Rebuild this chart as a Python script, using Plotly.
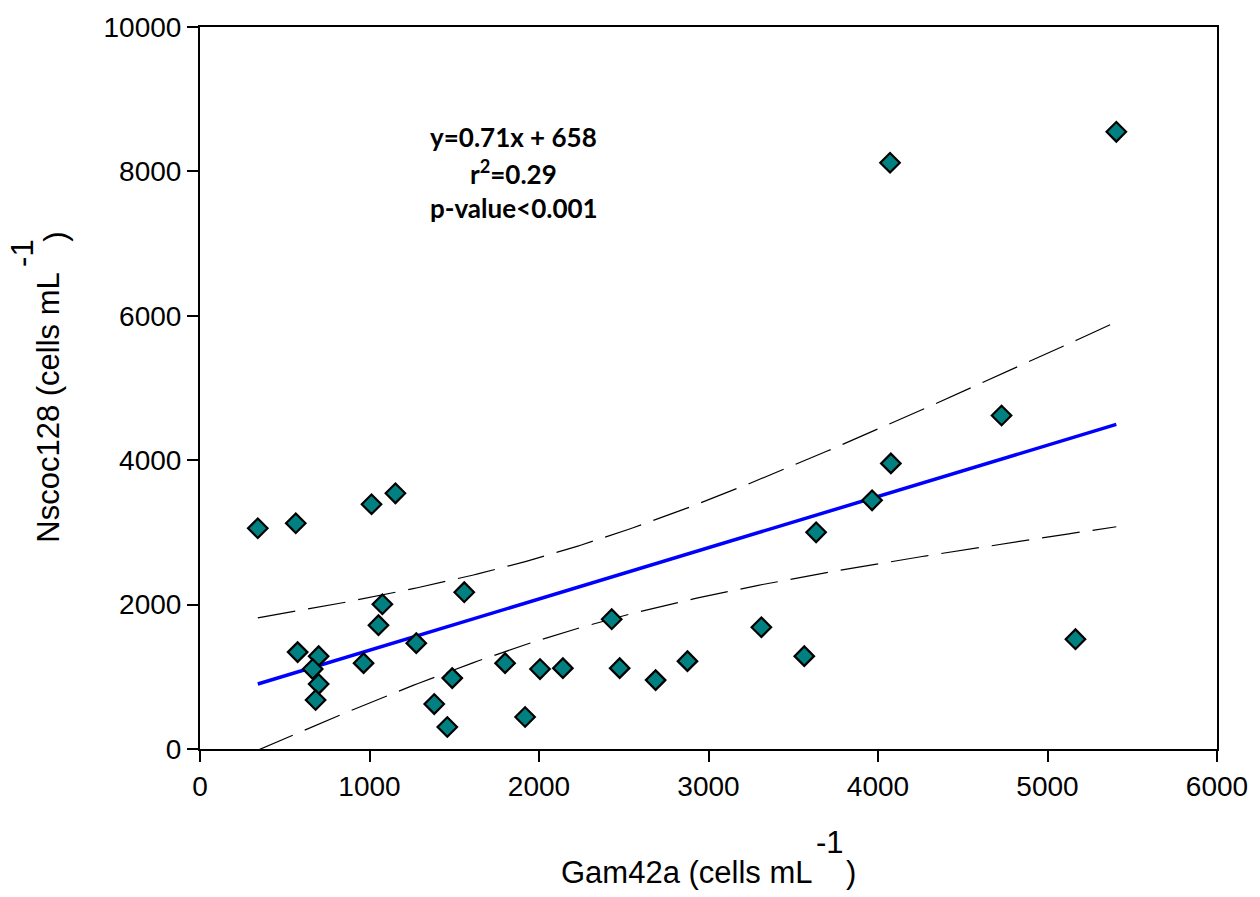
import numpy as np
import plotly.graph_objects as go

# Paired counts (cells mL-1)
gam42a = [341, 565, 1012, 1153, 576, 700, 665, 700, 682, 965, 1076, 1053,
          1276, 1382, 1459, 1488, 1559, 1800, 1918, 2006, 2141, 2429, 2476,
          2688, 2876, 3312, 3565, 3635, 3965, 4076, 4071, 4729, 5165, 5406]
nscoc128 = [3057, 3126, 3389, 3541, 1342, 1286, 1107, 899, 678, 1189, 2005,
            1715, 1466, 622, 304, 982, 2172, 1189, 443, 1107, 1120, 1798, 1120,
            954, 1217, 1687, 1286, 3001, 3444, 3956, 8119, 4620, 1521, 8548]

# Linear fit reported on the chart
slope = 0.71
intercept = 658
x_ticks = [0, 1000, 2000, 3000, 4000, 5000, 6000]
y_ticks = [0, 2000, 4000, 6000, 8000, 10000]
x_labels = [str(v) for v in x_ticks]
y_labels = [str(v) for v in y_ticks]

x = np.array(gam42a, dtype=float)
y = np.array(nscoc128, dtype=float)
n = len(x)
xs = np.linspace(x.min(), x.max(), 200)
fit = slope * xs + intercept

# 95% confidence band of the regression line
resid = y - (slope * x + intercept)
s = np.sqrt(np.sum(resid ** 2) / (n - 2))
xbar = x.mean()
sxx = np.sum((x - xbar) ** 2)
t_crit = 2.037
half = t_crit * s * np.sqrt(1.0 / n + (xs - xbar) ** 2 / sxx)

fig = go.Figure()
dash_style = dict(color="black", width=1.2, dash="38px,13px")
fig.add_trace(go.Scatter(x=xs, y=fit + half, mode="lines", line=dash_style,
                         hoverinfo="skip"))
fig.add_trace(go.Scatter(x=xs, y=fit - half, mode="lines", line=dash_style,
                         hoverinfo="skip"))
fig.add_trace(go.Scatter(x=xs, y=fit, mode="lines",
                         line=dict(color="#0000ff", width=3.5)))
fig.add_trace(go.Scatter(x=gam42a, y=nscoc128, mode="markers",
                         marker=dict(symbol="diamond", size=15, color="#008080",
                                     line=dict(color="black", width=2.2))))

L, R, T, B = 200, 36, 26, 148
W, H = 1260, 897
pw, ph = W - L - R, H - T - B


def px(xp):
    return (xp - L) / pw


def py(yp):
    return (H - B - yp) / ph


tick_font = dict(family="Liberation Sans, Arial, sans-serif", size=28, color="black")
axis_common = dict(showline=True, linecolor="black", linewidth=2, mirror=True,
                   ticks="outside", ticklen=11, tickwidth=2, tickcolor="black",
                   showgrid=False, zeroline=False, tickfont=tick_font)

fig.update_layout(
    width=W, height=H, margin=dict(l=L, r=R, t=T, b=B),
    plot_bgcolor="white", paper_bgcolor="white", showlegend=False,
    xaxis=dict(range=[0, 6000], tickvals=x_ticks, ticktext=x_labels, **axis_common),
    yaxis=dict(range=[0, 10000], tickvals=y_ticks, ticktext=y_labels, **axis_common),
)

title_font = dict(family="Liberation Sans, Arial, sans-serif", size=31, color="black")
eq_font = dict(family="Lato, Carlito, sans-serif", size=26, color="black")

annotations = [
    # x-axis title
    dict(x=px(819), y=py(892), text="Gam42a (cells mL", xanchor="right",
         yanchor="bottom", font=title_font),
    dict(x=px(818), y=py(862), text="-1", xanchor="left", yanchor="bottom",
         font=title_font),
    dict(x=px(848), y=py(892), text=")", xanchor="left", yanchor="bottom",
         font=title_font),
    # y-axis title
    dict(x=px(48), y=py(270), text="Nscoc128 (cells mL", textangle=-90,
         xanchor="center", yanchor="top", font=title_font),
    dict(x=px(21), y=py(252), text="-1", textangle=-90, xanchor="center",
         yanchor="middle", font=title_font),
    dict(x=px(55), y=py(236), text=")", textangle=-90, xanchor="center",
         yanchor="middle", font=title_font),
    # regression statistics
    dict(x=px(516), y=py(136), text="<b>y=0.71x + 658</b>", xanchor="center",
         yanchor="middle", font=eq_font),
    dict(x=px(516), y=py(172), text="<b>r<sup>2</sup>=0.29</b>", xanchor="center",
         yanchor="middle", font=eq_font),
    dict(x=px(516), y=py(207), text="<b>p-value<0.001</b>", xanchor="center",
         yanchor="middle", font=eq_font),
]
for a in annotations:
    a.update(xref="paper", yref="paper", showarrow=False)
fig.update_layout(annotations=annotations)

fig.write_html("out.html")
